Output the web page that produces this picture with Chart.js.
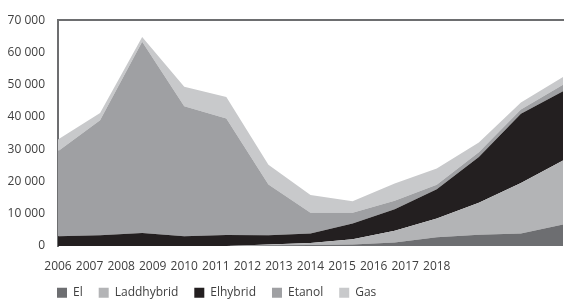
<!DOCTYPE html>
<html>
<head>
<meta charset="utf-8">
<script src="https://cdn.jsdelivr.net/npm/chart.js@4/dist/chart.umd.min.js"></script>
<style>
  html, body { margin: 0; padding: 0; background: #fff; }
  #wrap { width: 564px; height: 302px; position: relative; }
</style>
</head>
<body>
<div id="wrap"><canvas id="c"></canvas></div>
<script>
const years = ['2006','2007','2008','2009','2010','2011','2012','2013','2014','2015','2016','2017','2018'];
const seriesNames = ['El', 'Laddhybrid', 'Elhybrid', 'Etanol', 'Gas'];
const el         = [0, 0, 0, 0, 0, 200, 300, 500, 1100, 2700, 3500, 3900, 6700];
const laddhybrid = [0, 0, 0, 0, 0, 300, 600, 1600, 3600, 5800, 9900, 15600, 19800];
const elhybrid   = [3000, 3300, 4000, 3000, 3400, 2800, 3000, 4900, 6700, 9100, 14200, 21500, 21500];
const etanol     = [26400, 35700, 59300, 40300, 36100, 15800, 6400, 3300, 2600, 1400, 1500, 1300, 2000];
const gas        = [3600, 2200, 1500, 6100, 6700, 6100, 5500, 3600, 5400, 5000, 3000, 2200, 2400];
const yTicks = [0, 10000, 20000, 30000, 40000, 50000, 60000, 70000];

const colors = ['#6d6e71', '#b3b4b6', '#231f20', '#9fa0a3', '#c8c9cb'];
const values = [el, laddhybrid, elhybrid, etanol, gas];

Chart.defaults.font.family = "'Open Sans', sans-serif";
Chart.defaults.font.size = 12;
Chart.defaults.color = '#404040';

const datasets = values.map((arr, k) => ({
  label: seriesNames[k],
  data: arr.map((v, i) => ({ x: i, y: v })),
  backgroundColor: colors[k],
  borderColor: colors[k],
  borderWidth: 0,
  pointRadius: 0,
  fill: k === 0 ? 'origin' : '-1',
  tension: 0,
  xAxisID: 'x',
  yAxisID: 'y'
}));

const legendShift = {
  id: 'legendShift',
  beforeLayout(chart) {
    const lg = chart.legend;
    if (lg && !lg._patched) {
      const origFit = lg.fit;
      lg.fit = function () { origFit.call(this); this.height = 26; };
      lg._patched = true;
    }
  },
  afterLayout(chart) {
    const lg = chart.legend;
    if (!lg) return;
    const pad = lg.options.labels.padding;
    lg.left = 57 - pad;
    lg.top = 294 - pad - 7.2;
  }
};

new Chart(document.getElementById('c'), {
  type: 'line',
  data: { datasets },
  plugins: [legendShift],
  options: {
    responsive: true,
    maintainAspectRatio: false,
    animation: false,
    layout: { padding: { left: 0, right: 1, top: 0, bottom: 0 } },
    plugins: {
      legend: {
        position: 'bottom',
        align: 'start',
        labels: {
          boxWidth: 10,
          boxHeight: 10,
          padding: 16,
          color: '#404040',
          font: { size: 12 }
        }
      },
      tooltip: { enabled: false },
      filler: { propagate: false }
    },
    scales: {
      x: {
        type: 'linear',
        position: 'top',
        min: 0,
        max: 12,
        grid: { display: false, drawTicks: false },
        border: { display: true, color: '#6d6e70', width: 2 },
        ticks: { display: false },
        afterFit(s) { s.height = 15; }
      },
      xLabels: {
        type: 'linear',
        position: 'bottom',
        min: 0,
        max: 16,
        grid: { display: false, drawTicks: false },
        border: { display: false },
        afterBuildTicks(s) { s.ticks = years.map((y, i) => ({ value: i })); },
        ticks: {
          padding: 13,
          maxRotation: 0,
          autoSkip: false,
          color: '#404040',
          callback: (v) => years[v] !== undefined ? years[v] : ''
        },
        afterFit(s) { s.height = 30; }
      },
      y: {
        type: 'linear',
        stacked: true,
        min: 0,
        max: 70000,
        grid: { display: false, drawTicks: false },
        border: { display: true, color: '#6d6e70', width: 2 },
        afterBuildTicks(s) { s.ticks = yTicks.map(v => ({ value: v })); },
        ticks: {
          padding: 13,
          color: '#404040',
          callback: (v) => String(v).replace(/\B(?=(\d{3})+(?!\d))/g, ' ')
        },
        afterFit(s) { s.width = 58; }
      }
    }
  }
});
</script>
</body>
</html>
